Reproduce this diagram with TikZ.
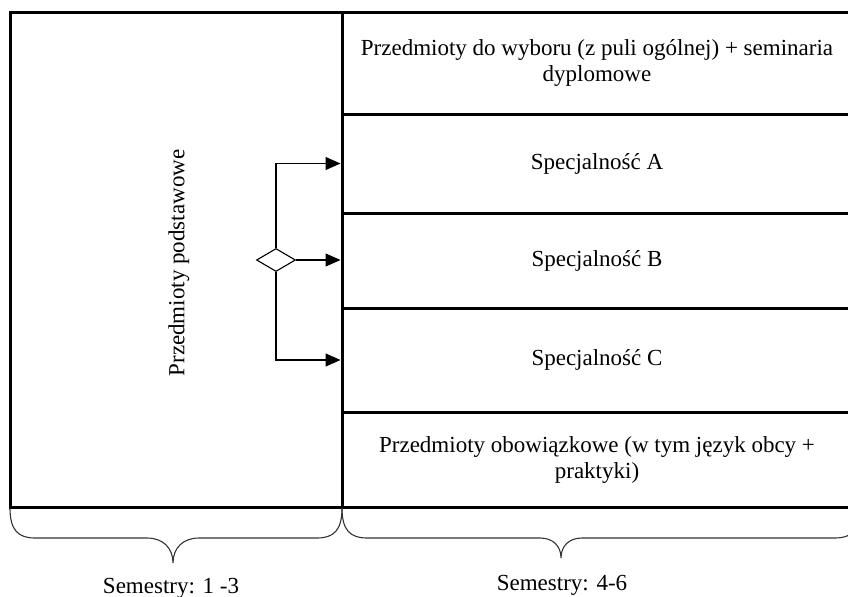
\documentclass[tikz,border=0pt]{standalone}
\usepackage{fontspec}
\setmainfont{Liberation Serif}
\usetikzlibrary{positioning, shapes.geometric, arrows.meta}
\tikzset{
	rowbox/.style={draw, line width=1.5pt, minimum width=255pt, align=center, inner sep=0pt, font=\fontsize{11.5}{13}\selectfont}
}
\tikzset{
	plaintext/.style={font=\fontsize{11.5}{13}\selectfont}
}
\tikzset{
	thinline/.style={line width=0.55pt},
	bracepath/.style={line width=0.55pt, black!80}
}

\begin{document}
\begin{tikzpicture}[>={Triangle[length=7.5pt,width=6.5pt]}, x=0.5pt, y=-0.5pt]
      \clip (0,0) rectangle (848,596);
      % semesters 1-3
      \node[rowbox, minimum width=166pt, minimum height=247.5pt] (basic) at (176,259.5) {};
      \node[plaintext, rotate=90] (basiclabel) at (179,263) {Przedmioty podstawowe};
      % semesters 4-6
      \node[rowbox, minimum height=51pt] (elective) at (597,63) {Przedmioty do wyboru (z puli ogólnej) + seminaria\\dyplomowe};
      \foreach \n/\y/\h in {A/163.5/49.5, B/260.5/47.5, C/360/52}
        {\node[rowbox, minimum height=\h pt] (sp\n) at (597,\y) {Specjalność \n};}
      \node[rowbox, minimum height=47.5pt] (mandatory) at (597,459.5) {Przedmioty obowiązkowe (w tym język obcy +\\praktyki)};
      % choice of speciality
      \node[draw, diamond, thinline, minimum width=19.5pt, minimum height=11.5pt, inner sep=0pt] (split) at (276,260) {};
      \draw[thinline, ->] (split.north) |- (spA.west);
      \draw[thinline, ->] (split.east) -- (split.east -| spB.west);
      \draw[thinline, ->] (split.south) |- (spC.west);
      % braces
      \draw[bracepath] (10,508) .. controls (10,530) and (18,538) .. (35,538) -- (147,538)
        .. controls (163,538) and (173,548) .. (173,563) .. controls (173,548) and (183,538) .. (199,538)
        -- (317,538) .. controls (334,538) and (342,530) .. (342,508);
      \draw[bracepath] (342,508) .. controls (342,530) and (350,538) .. (367,538) -- (540,538)
        .. controls (553,538) and (561,546) .. (561,558) .. controls (561,546) and (569,538) .. (582,538)
        -- (835,538) .. controls (852,538) and (860,530) .. (860,508);
      \node[plaintext, anchor=base] (sem1) at (171,593) {Semestry: 1 -3};
      \node[plaintext, anchor=base] (sem2) at (562,590) {Semestry: 4-6};
    \end{tikzpicture}
\end{document}
